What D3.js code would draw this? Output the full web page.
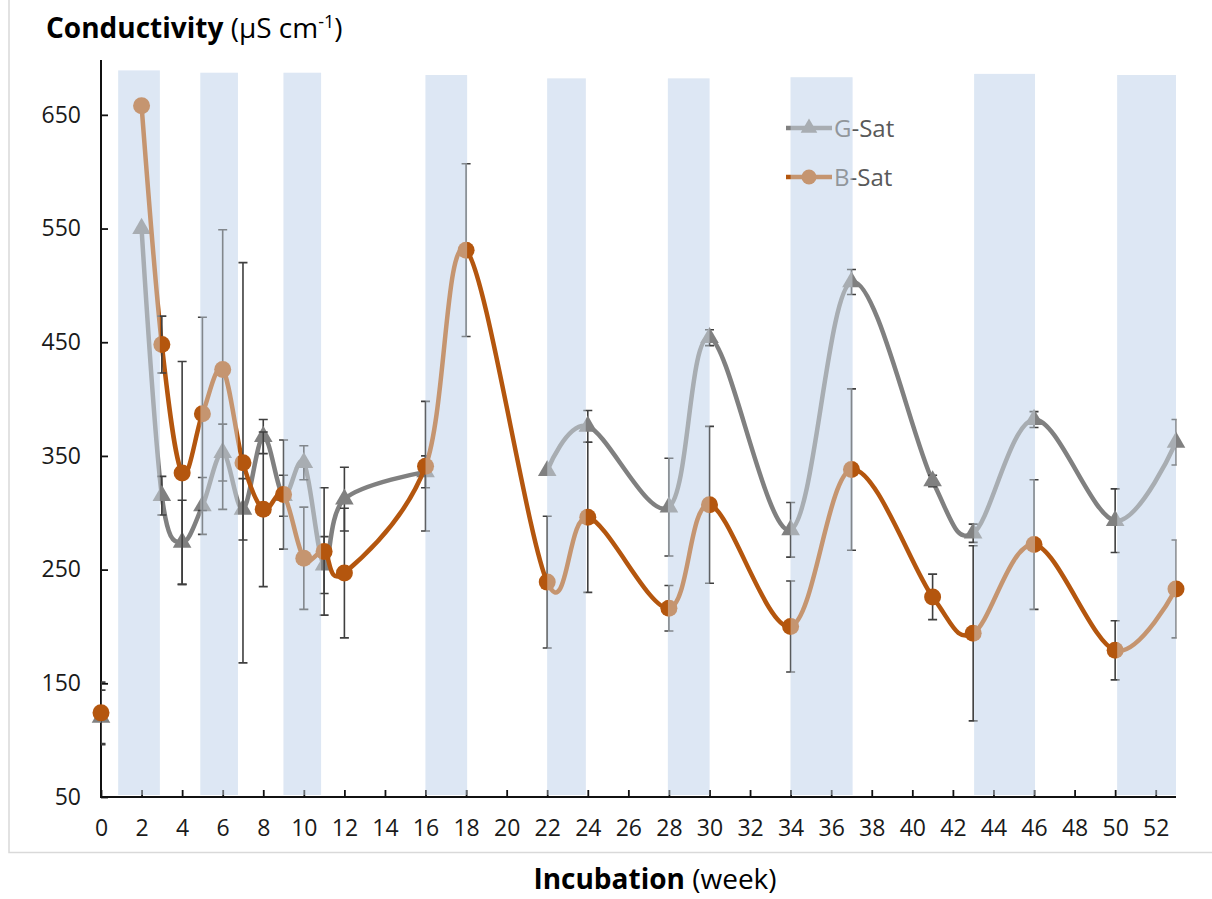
<!DOCTYPE html>
<html>
<head>
<meta charset="utf-8">
<script src="https://cdn.jsdelivr.net/npm/d3@7/dist/d3.min.js"></script>
<style>
  html, body { margin: 0; padding: 0; background: #fff; }
  svg { display: block; font-family: "Open Sans", Lato, sans-serif; }
</style>
</head>
<body>
<svg id="chart" width="1212" height="899"></svg>
<script>
// Sampling weeks (week 1 is a blank row, so the lines break after week 0)
const weeks   = [0, 1, 2, 3, 4, 5, 6, 7, 8, 9, 10, 11, 12, 16, 18, 22, 24, 28, 30, 34, 37, 41, 43, 46, 50, 53];
// G-Sat conductivity (µS cm-1) and its standard error
const gSat    = [120, null, 550, 315, 274, 306, 353, 303, 367, 315, 344, 254, 312, 336, null, 337, 376, 305, 454, 285, 503, 328, 282, 382, 293, 362];
const gSatErr = [24, null, 0, 17, 37, 25, 25, 27, 15, 18, 15, 25, 28, 14, null, 0, 14, 43, 7, 24, 11, 5, 8, 7, 28, 20];
// B-Sat conductivity (µS cm-1) and its standard error
const bSat    = [124, null, 658, 448, 335, 387, 426, 344, 303, 316, 260, 266, 247, 341, 531, 239, 296, 216, 307, 200, 338, 226, 194, 272, 179, 233];
const bSatErr = [27, null, 0, 25, 98, 85, 123, 176, 68, 48, 45, 56, 57, 57, 76, 58, 66, 20, 69, 40, 71, 20, 77, 57, 26, 43];
// Saturation periods (start week, end week, upper value of the shaded strip)
const bandStart = [0.85, 4.9, 9.0, 16.0, 22.0, 27.95, 34.0, 43.05, 50.1];
const bandEnd   = [2.9, 6.75, 10.85, 18.05, 23.9, 30.0, 37.05, 46.05, 53.0];
const bandTop   = [689, 687, 687, 685, 682, 682, 683, 686, 685];
// Axis ticks
const xTicks = d3.range(0, 53, 2);
const yTicks = [50, 150, 250, 350, 450, 550, 650];

const svg = d3.select("#chart");
const x = d3.scaleLinear().domain([0, 53]).range([101, 1176]);
const y = d3.scaleLinear().domain([50, 700]).range([797, 58]);

const colors = {
  band: "#dde7f4",
  brown: "#b4560e",
  gray: "#808080",
  err: "#3f3f3f",
  axis: "#111",
  text: "#1a1a1a",
  legend: "#595959"
};

// chart frame
svg.append("rect")
  .attr("x", 9).attr("y", -2).attr("width", 1212).attr("height", 854.5)
  .attr("fill", "none").attr("stroke", "#d9d9d9").attr("stroke-width", 1.5);

const bands = bandStart.map((s, i) => ({ s, e: bandEnd[i], top: bandTop[i] }));
const bandBottom = y(50) - 2;

// shaded strips behind the data
svg.append("g").selectAll("rect").data(bands).join("rect")
  .attr("x", d => x(d.s)).attr("width", d => x(d.e) - x(d.s))
  .attr("y", d => y(d.top)).attr("height", d => bandBottom - y(d.top))
  .attr("fill", colors.band);

// axes
const xAxis = d3.axisBottom(x).tickValues(xTicks).tickSizeInner(-7).tickSizeOuter(0).tickPadding(23);
const gx = svg.append("g").attr("transform", `translate(0,${y(50)})`).call(xAxis);
gx.select(".domain").attr("stroke", colors.axis).attr("stroke-width", 2)
  .attr("d", `M${x(0) - 1},0H${x(53)}`);
gx.selectAll(".tick line").attr("stroke", colors.axis).attr("stroke-width", 1.8);
gx.selectAll(".tick text").attr("font-size", 23).attr("fill", colors.text)
  .attr("font-family", "'Open Sans', sans-serif");

const yAxis = d3.axisLeft(y).tickValues(yTicks).tickSizeInner(-7).tickSizeOuter(0).tickPadding(20);
const gy = svg.append("g").attr("transform", `translate(${x(0)},0)`).call(yAxis);
gy.select(".domain").attr("stroke", colors.axis).attr("stroke-width", 2)
  .attr("d", `M0,${y(700) + 2}V${y(50) + 1}`);
gy.selectAll(".tick line").attr("stroke", colors.axis).attr("stroke-width", 1.8);
gy.selectAll(".tick text").attr("font-size", 23).attr("fill", colors.text)
  .attr("font-family", "'Open Sans', sans-serif");

// error bars stop at the right edge of the plot area
svg.append("clipPath").attr("id", "plotClip")
  .append("rect").attr("x", x(0)).attr("y", 0).attr("width", x(53) - x(0) + 0.5).attr("height", 899);

function rows(values, errors) {
  return weeks.map((w, i) => ({ w, v: values[i], e: errors[i] }));
}

const line = d3.line()
  .defined(d => d.v != null)
  .x(d => x(d.w)).y(d => y(d.v))
  .curve(d3.curveCardinal.tension(0));

function drawSeries(data, color, marker) {
  const g = svg.append("g");
  g.append("path").datum(data)
    .attr("d", line).attr("fill", "none")
    .attr("stroke", color).attr("stroke-width", 4.5)
    .attr("stroke-linejoin", "round").attr("stroke-linecap", "round");

  const pts = data.filter(d => d.v != null);
  const eb = g.append("g").attr("clip-path", "url(#plotClip)")
    .attr("stroke", colors.err).attr("stroke-width", 1.6).attr("fill", "none");
  pts.filter(d => d.e > 0).forEach(d => {
    const cx = x(d.w), y1 = y(d.v + d.e), y0 = y(d.v - d.e);
    eb.append("path").attr("d",
      `M${cx},${y1}V${y0}M${cx - 4.5},${y1}H${cx + 4.5}M${cx - 4.5},${y0}H${cx + 4.5}`);
  });

  g.append("g").selectAll("path").data(pts).join("path")
    .attr("transform", d => `translate(${x(d.w)},${y(d.v)})`)
    .attr("d", marker)
    .attr("fill", color);
}

const triangle = d3.symbol().type(d3.symbolTriangle).size(150)();
const circle = d3.symbol().type(d3.symbolCircle).size(Math.PI * 8.5 * 8.5)();

drawSeries(rows(gSat, gSatErr), colors.gray, triangle);
drawSeries(rows(bSat, bSatErr), colors.brown, circle);

// legend
const legendItems = [
  { name: "G-Sat", color: colors.gray, marker: d3.symbol().type(d3.symbolTriangle).size(120)(), yPos: 128 },
  { name: "B-Sat", color: colors.brown, marker: d3.symbol().type(d3.symbolCircle).size(Math.PI * 7.5 * 7.5)(), yPos: 177 }
];
const lg = svg.append("g");
legendItems.forEach(it => {
  lg.append("line").attr("x1", 786).attr("x2", 832).attr("y1", it.yPos).attr("y2", it.yPos)
    .attr("stroke", it.color).attr("stroke-width", 4.5);
  lg.append("path").attr("d", it.marker).attr("transform", `translate(809,${it.yPos})`)
    .attr("fill", it.color);
  lg.append("text").attr("x", 834).attr("y", it.yPos + 8.5)
    .attr("font-size", 24).attr("fill", colors.legend).text(it.name);
});

// translucent strips over the data, lightening marks within the periods
svg.append("g").selectAll("rect").data(bands).join("rect")
  .attr("x", d => x(d.s)).attr("width", d => x(d.e) - x(d.s))
  .attr("y", d => y(d.top)).attr("height", d => bandBottom - y(d.top))
  .attr("fill", colors.band).attr("opacity", 0.43);

// titles
const t = svg.append("text").attr("x", 46).attr("y", 38).attr("font-size", 28).attr("fill", "#000");
t.append("tspan").attr("font-weight", 700).text("Conductivity");
t.append("tspan").text(" (µS cm");
t.append("tspan").attr("font-size", 18).attr("dy", -10).text("-1");
t.append("tspan").attr("dy", 10).text(")");

const xt = svg.append("text").attr("x", 655).attr("y", 889).attr("text-anchor", "middle")
  .attr("font-size", 28).attr("fill", "#000");
xt.append("tspan").attr("font-weight", 700).text("Incubation");
xt.append("tspan").text(" (week)");
</script>
</body>
</html>
